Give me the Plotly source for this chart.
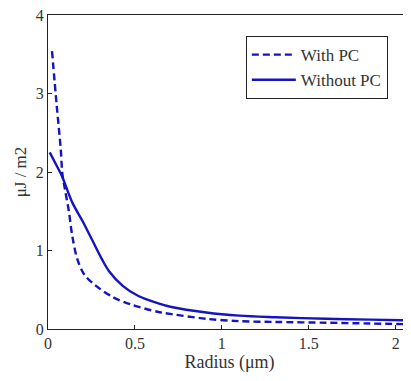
import plotly.graph_objects as go

# Data
x_without = [0.01, 0.05, 0.08, 0.14, 0.2, 0.255, 0.31, 0.35, 0.43, 0.52, 0.63, 0.71, 0.91, 1.1, 1.31, 1.6, 1.85, 2.1]
y_without = [2.25, 2.08, 1.95, 1.61, 1.37, 1.13, 0.89, 0.74, 0.55, 0.42, 0.33, 0.28, 0.21, 0.17, 0.15, 0.13, 0.12, 0.11]

x_with = [0.023, 0.05, 0.073, 0.083, 0.1, 0.12, 0.14, 0.17, 0.21, 0.27, 0.37, 0.48, 0.63, 0.71, 0.91, 1.1, 1.31, 1.6, 1.85, 2.1]
y_with = [3.54, 2.85, 2.3, 1.97, 1.75, 1.5, 1.18, 0.88, 0.69, 0.56, 0.41, 0.31, 0.22, 0.19, 0.13, 0.1, 0.09, 0.08, 0.07, 0.06]

x_ticks = [0, 0.5, 1, 1.5, 2]
x_tick_labels = ["0", "0.5", "1", "1.5", "2"]
y_ticks = [0, 1, 2, 3, 4]
y_tick_labels = ["0", "1", "2", "3", "4"]

color = "#1414c0"
font_family = "Liberation Serif"

fig = go.Figure()
fig.add_trace(go.Scatter(x=x_with, y=y_with, mode="lines", name="With PC",
                         line=dict(color=color, width=2.4, dash="7px,4px", shape="spline", smoothing=0.9)))
fig.add_trace(go.Scatter(x=x_without, y=y_without, mode="lines", name="Without PC",
                         line=dict(color=color, width=2.4, shape="spline", smoothing=0.9)))

axis_common = dict(showgrid=False, zeroline=False, showline=True, linecolor="#222",
                   linewidth=1, mirror=True, ticks="inside", ticklen=4, tickcolor="#222",
                   automargin=False, ticklabeloverflow="allow",
                   tickfont=dict(family=font_family, size=16, color="#333"))

fig.update_layout(
    width=403, height=373,
    margin=dict(l=40, r=0, t=7, b=52),
    paper_bgcolor="white", plot_bgcolor="white",
    font=dict(family=font_family, size=17, color="#333"),
    xaxis=dict(range=[0, 2.088], tickvals=x_ticks, ticktext=x_tick_labels,
               title=dict(text="Radius (μm)", font=dict(family=font_family, size=18, color="#333"), standoff=2),
               **axis_common),
    yaxis=dict(range=[0, 4], tickvals=y_ticks, ticktext=y_tick_labels,
               title=dict(text="μJ / m2", font=dict(family=font_family, size=17, color="#333"), standoff=4),
               **axis_common),
    legend=dict(x=0.545, y=0.933, xanchor="left", yanchor="top",
                bgcolor="white", bordercolor="#222", borderwidth=1,
                font=dict(family=font_family, size=17, color="#333"),
                tracegroupgap=0, itemwidth=44),
    showlegend=True,
)

fig.write_html("out.html")
